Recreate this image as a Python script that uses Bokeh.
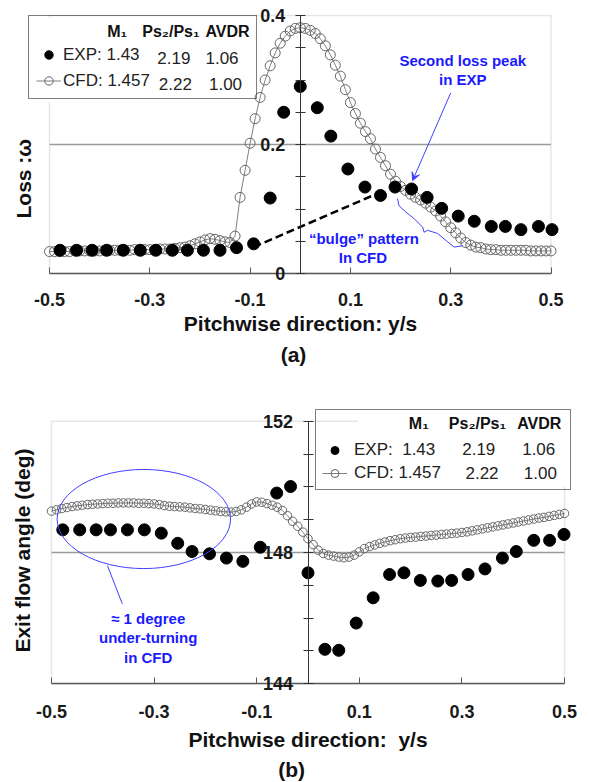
import math
from bokeh.plotting import figure
from bokeh.models import (FixedTicker, LinearAxis, Label, Legend, LegendItem,
                          Arrow, VeeHead, BoxAnnotation, Range1d)
from bokeh.layouts import column
from bokeh.core.properties import value
from bokeh.embed import file_html
from bokeh.resources import INLINE

FONT = "Liberation Sans"
BLUE_TXT = "#1a1aff"
BLUE_LN = "#4040ff"

# ---------------- (a) loss coefficient ----------------
loss_exp_x = [-0.479, -0.446, -0.415, -0.386, -0.353, -0.319, -0.288, -0.255, -0.225, -0.193,
              -0.160, -0.127, -0.093, -0.060, -0.033, 0.000, 0.034, 0.061, 0.095, 0.129,
              0.160, 0.189, 0.222, 0.253, 0.282, 0.315, 0.347, 0.381, 0.409, 0.440,
              0.475, 0.502]
loss_exp_y = [0.036, 0.036, 0.036, 0.036, 0.036, 0.036, 0.036, 0.036, 0.036, 0.036,
              0.036, 0.040, 0.046, 0.117, 0.250, 0.290, 0.257, 0.213, 0.162, 0.134,
              0.121, 0.134, 0.131, 0.118, 0.101, 0.089, 0.081, 0.073, 0.073, 0.068,
              0.073, 0.068]
loss_cfd_x = [round(-0.50 + 0.01 * i, 2) for i in range(101)]
loss_cfd_y = [0.034, 0.034, 0.034, 0.034, 0.034, 0.035, 0.035, 0.035, 0.035, 0.035,
              0.035, 0.036, 0.036, 0.036, 0.036, 0.036, 0.036, 0.037, 0.037, 0.037,
              0.037, 0.037, 0.038, 0.038, 0.038, 0.039, 0.040, 0.041, 0.043, 0.046,
              0.049, 0.052, 0.054, 0.053, 0.051, 0.049, 0.048, 0.058, 0.118, 0.160,
              0.202, 0.240, 0.273, 0.300, 0.322, 0.342, 0.357, 0.368, 0.376, 0.380,
              0.381, 0.380, 0.377, 0.372, 0.364, 0.353, 0.339, 0.323, 0.306, 0.285,
              0.265, 0.248, 0.233, 0.220, 0.209, 0.193, 0.180, 0.167, 0.154, 0.143,
              0.135, 0.129, 0.123, 0.118, 0.114, 0.109, 0.103, 0.097, 0.089, 0.080,
              0.071, 0.063, 0.055, 0.048, 0.044, 0.041, 0.040, 0.038, 0.037, 0.037,
              0.036, 0.036, 0.036, 0.036, 0.036, 0.036, 0.035, 0.035, 0.035, 0.035,
              0.035]

# ---------------- (b) exit flow angle ----------------
angle_exp_x = [-0.478, -0.445, -0.413, -0.385, -0.352, -0.319, -0.286, -0.254, -0.226, -0.192,
               -0.159, -0.127, -0.093, -0.061, -0.034, 0.000, 0.033, 0.060, 0.094, 0.127,
               0.159, 0.187, 0.219, 0.253, 0.280, 0.312, 0.345, 0.379, 0.406, 0.440,
               0.471, 0.499]
angle_exp_y = [148.69, 148.69, 148.69, 148.69, 148.69, 148.69, 148.59, 148.28, 148.03, 147.96,
               147.83, 147.73, 148.16, 149.81, 150.01, 147.38, 145.05, 145.02, 145.85, 146.62,
               147.33, 147.38, 147.15, 147.13, 147.15, 147.33, 147.50, 147.83, 148.03, 148.37,
               148.37, 148.55]
angle_cfd_x = [round(-0.50 + 0.01 * i, 2) for i in range(101)]
angle_cfd_y = [149.26, 149.30, 149.34, 149.37, 149.40, 149.42, 149.44, 149.46, 149.47, 149.48,
               149.49, 149.50, 149.50, 149.51, 149.51, 149.51, 149.51, 149.50, 149.50, 149.49,
               149.48, 149.46, 149.43, 149.41, 149.40, 149.39, 149.38, 149.36, 149.34, 149.33,
               149.31, 149.29, 149.27, 149.25, 149.24, 149.23, 149.25, 149.30, 149.38, 149.48,
               149.54, 149.53, 149.49, 149.44, 149.38, 149.28, 149.12, 148.95, 148.80, 148.62,
               148.42, 148.24, 148.07, 147.97, 147.92, 147.89, 147.86, 147.84, 147.86, 147.92,
               148.02, 148.12, 148.18, 148.23, 148.28, 148.32, 148.36, 148.39, 148.42, 148.44,
               148.46, 148.47, 148.49, 148.50, 148.52, 148.53, 148.55, 148.56, 148.58, 148.59,
               148.61, 148.63, 148.66, 148.69, 148.72, 148.75, 148.78, 148.81, 148.84, 148.87,
               148.90, 148.93, 148.96, 148.99, 149.02, 149.05, 149.07, 149.10, 149.13, 149.16,
               149.19]

x_ticks = [-0.5, -0.3, -0.1, 0.1, 0.3, 0.5]
x_tick_labels = ["-0.5", "-0.3", "-0.1", "0.1", "0.3", "0.5"]
loss_ticks = [0, 0.2, 0.4]
loss_tick_labels = ["0", "0.2", "0.4"]
loss_minor = [0.05, 0.1, 0.15, 0.25, 0.3, 0.35]
angle_ticks = [144, 148, 152]
angle_tick_labels = ["144", "148", "152"]
angle_minor = [145, 146, 147, 149, 150, 151]

legend_header = ["M\u2081", "Ps\u2082/Ps\u2081", "AVDR"]
exp_params = ["1.43", "2.19", "1.06"]
cfd_params = ["1.457", "2.22", "1.00"]

# ---------------- page geometry (pixels) ----------------
W = 589
H1, H2 = 390, 392
A_BOX = (49, 550.5, 15, 273)        # left, right, top, bottom of plot box (a)
B_BOX = (51, 564, 30.7, 293.3)      # same for (b), in its own canvas


def make_fig(h, box, x_lim, y_lim):
    left, right, top, bottom = box
    ppx = (right - left) / (x_lim[1] - x_lim[0])
    ppy = (bottom - top) / (y_lim[1] - y_lim[0])
    xr = Range1d(x_lim[0] - left / ppx, x_lim[1] + (W - right) / ppx)
    yr = Range1d(y_lim[0] - (h - bottom) / ppy, y_lim[1] + top / ppy)
    p = figure(width=W, height=h, x_range=xr, y_range=yr, x_axis_location=None,
               y_axis_location=None, min_border=0, output_backend="svg",
               toolbar_location=None)
    p.outline_line_color = None
    p.background_fill_color = "white"
    p.border_fill_color = "white"
    p.xgrid.visible = False
    p.ygrid.visible = False
    p.add_layout(BoxAnnotation(left=x_lim[0], right=x_lim[1], bottom=y_lim[0], top=y_lim[1],
                               fill_alpha=0, line_color="#ababab", line_width=1.5,
                               level="underlay"))
    return p


def add_axes(p, x_lim, y_lim, yticks, ylabels, yminor, grid_at, xlab, lab_standoff, title_standoff):
    # horizontal grid line limited to the plot box
    p.segment(x0=[x_lim[0]], y0=[grid_at], x1=[x_lim[1]], y1=[grid_at],
              line_color="#9a9a9a", line_width=1.5)
    xax = LinearAxis(fixed_location=y_lim[0], bounds=x_lim,
                     ticker=FixedTicker(ticks=x_ticks),
                     major_label_overrides=dict(zip(x_ticks, x_tick_labels)),
                     major_tick_in=6, major_tick_out=0, minor_tick_line_color=None,
                     axis_line_color="#5a5a5a", axis_line_width=1.5,
                     major_tick_line_color="#5a5a5a", major_label_standoff=lab_standoff,
                     major_label_text_font=FONT, major_label_text_font_size="18px",
                     major_label_text_font_style="bold", major_label_text_color="#1a1a1a",
                     axis_label=xlab, axis_label_standoff=title_standoff,
                     axis_label_text_font=FONT, axis_label_text_font_size="21px",
                     axis_label_text_font_style="bold", axis_label_text_color="#111111")
    p.add_layout(xax, "below")
    yax = LinearAxis(fixed_location=0, bounds=y_lim,
                     ticker=FixedTicker(ticks=yticks, minor_ticks=yminor),
                     major_label_overrides=dict(zip(yticks, ylabels)),
                     major_tick_in=5, major_tick_out=5, minor_tick_in=5, minor_tick_out=5,
                     axis_line_color="#333333", major_tick_line_color="#333333",
                     minor_tick_line_color="#333333", major_label_standoff=10,
                     major_label_text_font=FONT, major_label_text_font_size="18px",
                     major_label_text_font_style="bold", major_label_text_color="#1a1a1a")
    p.add_layout(yax, "left")


def txt(p, x, y, text, size="15px", color=BLUE_TXT, bold=True, align="center", angle=0.0):
    p.add_layout(Label(x=x, y=y, text=text, text_font=FONT, text_font_size=size,
                       text_font_style="bold" if bold else "normal", text_color=color,
                       text_align=align, text_baseline="middle", angle=angle))


def legend_box(p, r_exp, r_cfd, loc, pad, gh, spacing, lwidth, standoff, tstand, exp_lbl):
    leg = Legend(items=[LegendItem(label=value(exp_lbl), renderers=[r_exp]),
                        LegendItem(label=value("CFD: " + cfd_params[0]), renderers=r_cfd)],
                 location=loc, title=" ", title_text_font_size="16px", title_standoff=tstand,
                 padding=pad, spacing=spacing, margin=0, glyph_width=25, glyph_height=gh,
                 label_height=gh, label_width=lwidth, label_standoff=standoff,
                 label_text_font=FONT, label_text_font_size="17px", label_text_color="#222222",
                 border_line_color="black", border_line_width=1.2,
                 background_fill_alpha=0.0)
    p.add_layout(leg)


# ======================= (a) =======================
A_X, A_Y = (-0.5, 0.5), (0.0, 0.4)
p1 = make_fig(H1, A_BOX, A_X, A_Y)
add_axes(p1, A_X, A_Y, loss_ticks, loss_tick_labels, loss_minor, 0.2,
         "Pitchwise direction: y/s", 19, 3)

p1.add_layout(BoxAnnotation(left=-0.553, right=-0.099, bottom=0.266, top=0.397,
                            fill_color="white", fill_alpha=1.0, line_color=None,
                            level="underlay"))

p1.line([-0.093, 0.145], [0.041, 0.121], line_color="black", line_width=2.5, line_dash="8 4")
r1_cl = p1.line(loss_cfd_x, loss_cfd_y, line_color="#808080", line_width=1)
r1_c = p1.scatter(loss_cfd_x, loss_cfd_y, marker="circle", size=10, fill_alpha=0,
                  line_color="#666666", line_width=1)
r1_e = p1.scatter(loss_exp_x, loss_exp_y, marker="circle", size=12, fill_color="black",
                  line_color="black")

brace_x = [0.194, 0.197, 0.211, 0.227, 0.244, 0.247, 0.254, 0.274, 0.294, 0.307, 0.324]
brace_y = [0.116, 0.105, 0.095, 0.085, 0.072, 0.064, 0.067, 0.062, 0.049, 0.041, 0.043]
p1.line(brace_x, brace_y, line_color=BLUE_LN, line_width=1)
p1.add_layout(Arrow(end=VeeHead(size=8, line_color=BLUE_LN, fill_color=BLUE_LN, line_width=1),
                    x_start=0.300, y_start=0.280, x_end=0.224, y_end=0.144,
                    line_color=BLUE_LN, line_width=1))
txt(p1, 0.324, 0.330, "Second loss peak")
txt(p1, 0.324, 0.301, "in EXP")
txt(p1, 0.127, 0.054, "\u201cbulge\u201d pattern")
txt(p1, 0.125, 0.025, "In CFD")
txt(p1, -0.5518, 0.147, "Loss :\u03c9", size="21px", color="#111111", angle=math.pi / 2)
txt(p1, -0.0135, -0.1256, "(a)", size="21px", color="#111111")

legend_box(p1, r1_e, [r1_cl, r1_c], (28, H1 - 99), 7, 21, 5, 186, 2, 3, "EXP: " + exp_params[0])
txt(p1, -0.385, 0.375, legend_header[0], size="16px", color="#111111", align="left")
txt(p1, -0.315, 0.375, legend_header[1], size="16px", color="#111111", align="left")
txt(p1, -0.189, 0.375, legend_header[2], size="16px", color="#111111", align="left")
txt(p1, -0.285, 0.334, exp_params[1], size="17px", color="#222222", bold=False, align="left")
txt(p1, -0.189, 0.334, exp_params[2], size="17px", color="#222222", bold=False, align="left")
txt(p1, -0.282, 0.294, cfd_params[1], size="17px", color="#222222", bold=False, align="left")
txt(p1, -0.182, 0.294, cfd_params[2], size="17px", color="#222222", bold=False, align="left")

# ======================= (b) =======================
B_X, B_Y = (-0.5, 0.5), (144.0, 152.0)
p2 = make_fig(H2, B_BOX, B_X, B_Y)
add_axes(p2, B_X, B_Y, angle_ticks, angle_tick_labels, angle_minor, 148,
         "Pitchwise direction:\u00a0 y/s", 21, 7)

# white backing of the legend box (hides the plot-box border behind it)
p2.add_layout(BoxAnnotation(left=0.0975, right=0.5475, bottom=150.0, top=152.4,
                            fill_color="white", fill_alpha=1.0, line_color=None,
                            level="underlay"))

r2_cl = p2.line(angle_cfd_x, angle_cfd_y, line_color="#808080", line_width=1)
r2_c = p2.scatter(angle_cfd_x, angle_cfd_y, marker="circle", size=8.5, fill_alpha=0,
                  line_color="#666666", line_width=1)
r2_e = p2.scatter(angle_exp_x, angle_exp_y, marker="circle", size=12, fill_color="black",
                  line_color="black")

p2.ellipse(x=[-0.320], y=[149.02], width=[0.338], height=[3.02], fill_alpha=0,
           line_color=BLUE_LN, line_width=1)
p2.line([-0.391, -0.362], [147.60, 146.44], line_color=BLUE_LN, line_width=1)
txt(p2, -0.3115, 145.99, "\u2248 1 degree")
txt(p2, -0.3115, 145.40, "under-turning")
txt(p2, -0.3115, 144.80, "in CFD")
txt(p2, -0.5571, 148.06, "Exit flow angle (deg)", size="21px", color="#111111",
    angle=math.pi / 2)
txt(p2, -0.032, 141.40, "(b)", size="21px", color="#111111")

legend_box(p2, r2_e, [r2_cl, r2_c], (315, H2 - 100), 6, 20, 3, 210, 7, 6,
           "EXP:\u00a0 " + exp_params[0])
txt(p2, 0.1965, 151.92, legend_header[0], size="16px", color="#111111", align="left")
txt(p2, 0.2745, 151.92, legend_header[1], size="16px", color="#111111", align="left")
txt(p2, 0.4078, 151.92, legend_header[2], size="16px", color="#111111", align="left")
txt(p2, 0.3006, 151.14, exp_params[1], size="17px", color="#222222", bold=False, align="left")
txt(p2, 0.4175, 151.14, exp_params[2], size="17px", color="#222222", bold=False, align="left")
txt(p2, 0.3070, 150.43, cfd_params[1], size="17px", color="#222222", bold=False, align="left")
txt(p2, 0.4207, 150.43, cfd_params[2], size="17px", color="#222222", bold=False, align="left")

layout = column(p1, p2, spacing=0)
open("out.html", "w").write(file_html(layout, INLINE))
